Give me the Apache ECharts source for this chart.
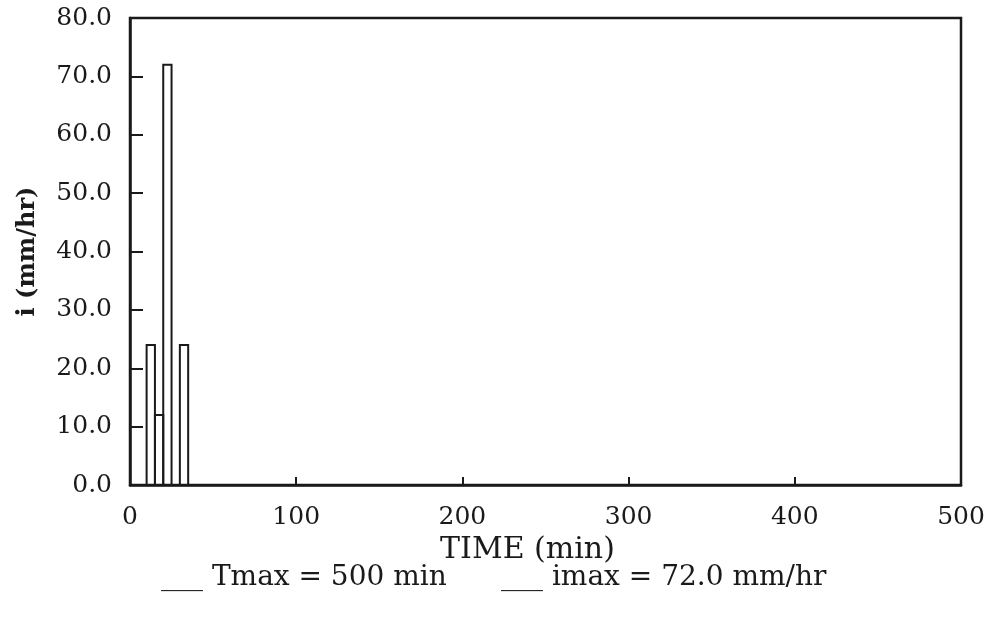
<!DOCTYPE html>
<html>
<head>
<meta charset="utf-8">
<script src="https://cdn.jsdelivr.net/npm/echarts@6/dist/echarts.min.js"></script>
<style>
html,body{margin:0;padding:0;background:#fff;}
#chart{width:989px;height:621px;}
</style>
</head>
<body>
<div id="chart"></div>
<script>
// Data
var startTimes = [10, 15, 20, 25, 30];      // min, start of each 5-min block
var blockLength = 5;                          // min
var intensities = [24, 12, 72, 0, 24];        // mm/hr
var xTicks = [0, 100, 200, 300, 400, 500];
var yTicks = [0, 10, 20, 30, 40, 50, 60, 70, 80];
var tMax = 500;

var FONT = '"DejaVu Serif", "Liberation Serif", serif';
var INK = '#1a1a1a';

var data = startTimes.map(function (s, i) { return [s, s + blockLength, intensities[i]]; });
var iMax = Math.max.apply(null, intensities);

var chart = echarts.init(document.getElementById('chart'), null, {renderer: 'canvas'});
chart.setOption({
  backgroundColor: '#ffffff',
  animation: false,
  grid: {left: 130, right: 28, top: 18, bottom: 136, show: true, borderColor: INK, borderWidth: 2.5,
         backgroundColor: 'transparent', containLabel: false, outerBoundsMode: 'none'},
  xAxis: {
    type: 'value', min: xTicks[0], max: xTicks[xTicks.length - 1], interval: 100,
    name: 'TIME (min)', nameLocation: 'middle', nameGap: 48,
    nameTextStyle: {fontFamily: FONT, fontSize: 30, color: INK, padding: [0, 36, 0, 0]},
    axisLine: {show: true, lineStyle: {color: INK, width: 2.5}},
    axisTick: {show: true, inside: true, length: 8, lineStyle: {color: INK, width: 2}},
    axisLabel: {fontFamily: FONT, fontSize: 25, color: INK, margin: 20},
    splitLine: {show: false}
  },
  yAxis: {
    type: 'value', min: yTicks[0], max: yTicks[yTicks.length - 1], interval: 10,
    name: 'i (mm/hr)', nameLocation: 'middle', nameGap: 90, nameRotate: 90,
    nameTextStyle: {fontFamily: FONT, fontSize: 24, color: INK, fontWeight: 'bold'},
    axisLine: {show: true, lineStyle: {color: INK, width: 2.5}},
    axisTick: {show: true, inside: true, length: 13, lineStyle: {color: INK, width: 2}},
    axisLabel: {fontFamily: FONT, fontSize: 25, color: INK, margin: 18, formatter: function (v) { return v.toFixed(1); }},
    splitLine: {show: false}
  },
  series: [{
    type: 'custom',
    data: data,
    renderItem: function (params, api) {
      var v = api.value(2);
      if (!v) return null;
      var p0 = api.coord([api.value(0), 0]);
      var p1 = api.coord([api.value(1), v]);
      return {
        type: 'rect',
        shape: {x: p0[0], y: p1[1], width: p1[0] - p0[0], height: p0[1] - p1[1]},
        style: {fill: null, stroke: INK, lineWidth: 2}
      };
    },
    encode: {x: [0, 1], y: 2}
  }],
  graphic: [
    {type: 'text', x: 161, y: 578, style: {text: '___ Tmax = ' + tMax + ' min', fontFamily: FONT, fontSize: 28, fill: INK, verticalAlign: 'middle'}},
    {type: 'text', x: 501, y: 578, style: {text: '___ imax = ' + iMax.toFixed(1) + ' mm/hr', fontFamily: FONT, fontSize: 28, fill: INK, verticalAlign: 'middle'}}
  ]
});
</script>
</body>
</html>
